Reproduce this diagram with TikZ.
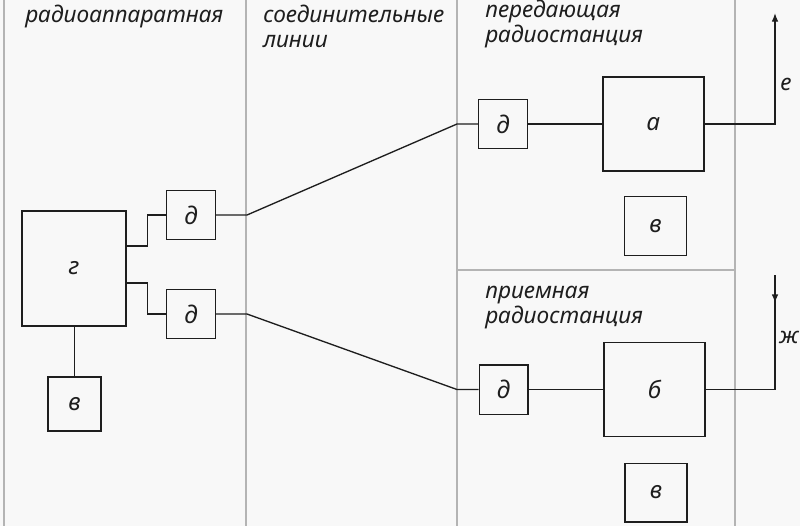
\documentclass[tikz,border=0pt]{standalone}
\usepackage{fontspec}
\setmainfont{Noto Sans}
\usetikzlibrary{arrows.meta,positioning,calc}
\definecolor{RSPaper}{HTML}{F8F8F8}
\definecolor{RSInk}{HTML}{1E1E1E}
\definecolor{RSRule}{HTML}{B4B4B4}
\tikzset{
  wire/.style={RSInk,line width=1.0pt},
  tipwire/.style={wire,-{Latex[length=6.5pt,width=5pt]}},
  divider/.style={RSRule,line width=1.1pt},
  blockbox/.style={draw=RSInk,line width=1.0pt,fill=RSPaper,text=RSInk,inner sep=0pt,
                   font=\fontsize{18}{20}\selectfont\itshape},
  bigbox/.style={blockbox,minimum width=75.75pt,minimum height=70.5pt},
  smallbox/.style={blockbox,minimum width=36.5pt,minimum height=37pt},
  powerbox/.style={blockbox,minimum width=46.5pt,minimum height=44pt},
  heading/.style={text=RSInk,font=\fontsize{17}{18.75}\selectfont\itshape,
                  align=left,inner sep=0pt,anchor=base west},
  sideletter/.style={text=RSInk,font=\fontsize{17}{20}\selectfont\itshape,inner sep=0pt},
}

\begin{document}
\begin{tikzpicture}[x=0.75pt,y=-0.75pt]
    \fill[RSPaper] (0,0) rectangle (800,526);
    \useasboundingbox (0,0) rectangle (800,526);

    \draw[divider] (4,0) -- (4,526);
    \draw[divider] (246,0) -- (246,526);
    \draw[divider] (457,0) -- (457,526);
    \draw[divider] (735,0) -- (735,526);
    \draw[divider] (457,270) -- (735,270);

    \node[heading] (hApp) at (25,22) {радиоаппаратная};
    \node[heading] (hLine) at (263,47) {соединительные\\линии};
    \node[heading] (hTx) at (485,42) {передающая\\радиостанция};
    \node[heading] (hRx) at (485,323) {приемная\\радиостанция};

    \node[blockbox,minimum width=78pt,minimum height=86.25pt] (g) at (74,268.5) {г};
    \node[blockbox,minimum width=39.75pt,minimum height=40.5pt] (vL) at (74.5,404) {в};
    \node[smallbox] (dA) at (191,215) {д};
    \node[smallbox] (dB) at (191,314) {д};

    \node[smallbox] (dT) at (503,124) {д};
    \node[bigbox] (a) at (653.5,124) {а};
    \node[powerbox] (vT) at (655.5,226) {в};

    \node[smallbox] (dR) at (503.5,389.5) {д};
    \node[bigbox] (b) at (654.5,389.5) {б};
    \node[powerbox] (vB) at (656,492.5) {в};

    \coordinate (kA) at (457,124);
    \coordinate (kB) at (457,389.5);
    \coordinate (outE) at (775,13);
    \coordinate (inZ) at (775,275);

    \draw[wire] (g.south -| vL.north) -- (vL.north);
    \draw[wire] ($(g.east)+(0,-22.5)$) -- ++(21,0) |- (dA.west);
    \draw[wire] ($(g.east)+(0,14.5)$) -- ++(21,0) |- (dB.west);
    \draw[wire] (dA.east) -- ++(31,0) -- (kA) -- (dT.west);
    \draw[wire] (dB.east) -- ++(31,0) -- (kB) -- (dR.west);
    \draw[wire] (dT.east) -- (a.west);
    \draw[wire] (dR.east) -- (b.west);
    \draw[tipwire] (a.east) -| (outE);
    \draw[wire] (b.east) -| (inZ);
    \draw[tipwire] (inZ) -- ++(0,28);

    \node[sideletter] (lE) at (786,84) {е};
    \node[sideletter] (lZh) at (789,337) {ж};
  \end{tikzpicture}
\end{document}
